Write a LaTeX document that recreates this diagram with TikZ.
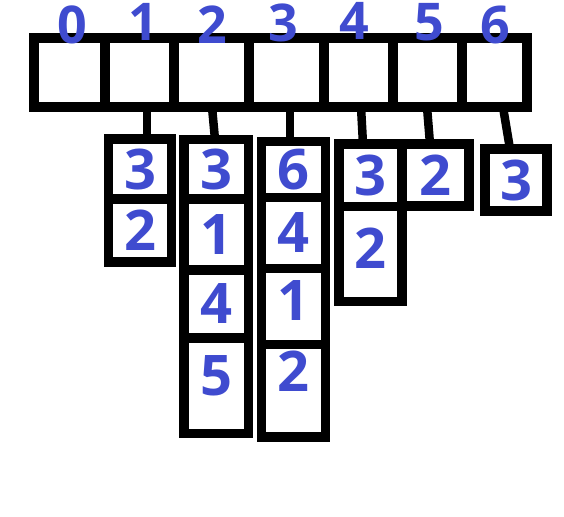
\documentclass[tikz,border=0pt]{standalone}
\usepackage{fontspec}
\newfontfamily\digitfont{Open Sans}
\definecolor{digitblue}{HTML}{3F4BCF}
\usetikzlibrary{positioning}

\begin{document}
\begin{tikzpicture}[x=1pt, y=-1pt,
  slot/.style={rectangle, draw=black, line width=9.5pt, inner sep=0pt, outer sep=0pt, minimum height=69pt},
  cell/.style={rectangle, draw=black, line width=9.5pt, inner sep=0pt, outer sep=0pt, text=digitblue, font=\digitfont\bfseries\fontsize{56}{56}\selectfont},
  idx/.style={inner sep=0pt, text=digitblue, font=\digitfont\bfseries\fontsize{52}{52}\selectfont},
  stem/.style={draw=black, line width=8.5pt}]
\useasboundingbox (0,0) rectangle (564,516);
% array of heads
\node[slot, minimum width=71pt] (a0) at (69.5,72.5) {};
\node[slot, minimum width=69pt] (a1) at (139.5,72.5) {};
\node[slot, minimum width=75pt] (a2) at (211.5,72.5) {};
\node[slot, minimum width=75pt] (a3) at (286.5,72.5) {};
\node[slot, minimum width=69pt] (a4) at (358.5,72.5) {};
\node[slot, minimum width=69pt] (a5) at (427.5,72.5) {};
\node[slot, minimum width=65pt] (a6) at (494.5,72.5) {};
\node[idx] (n0) at (72,25) {0};
\node[idx] (n1) at (143,22) {1};
\node[idx] (n2) at (212,25) {2};
\node[idx] (n3) at (283,23) {3};
\node[idx] (n4) at (354,21) {4};
\node[idx] (n5) at (429,22) {5};
\node[idx] (n6) at (495,25) {6};
% lists
\node[cell, minimum width=63pt, minimum height=60pt] (l1a) at (140,169) {3};
\node[cell, minimum width=63pt, minimum height=63pt] (l1b) at (140,230.5) {2};
\node[cell, minimum width=64.5pt, minimum height=59.5pt] (l2a) at (216,169.25) {3};
\node[cell, minimum width=64.5pt, minimum height=71pt] (l2b) at (216,234.5) {1};
\node[cell, minimum width=64.5pt, minimum height=68pt] (l2c) at (216,304) {4};
\node[cell, minimum width=64.5pt, minimum height=95.5pt, text depth=20pt] (l2d) at (216,385.75) {5};
\node[cell, minimum width=64pt, minimum height=56pt] (l3a) at (293.5,169.5) {6};
\node[cell, minimum width=64pt, minimum height=71pt] (l3b) at (293.5,233) {4};
\node[cell, minimum width=64pt, minimum height=76pt, text depth=12pt] (l3c) at (293.5,306.5) {1};
\node[cell, minimum width=64pt, minimum height=92.5pt, text depth=40pt] (l3d) at (293.5,390.75) {2};
\node[cell, minimum width=63pt, minimum height=62.5pt] (l4a) at (370.5,175.25) {3};
\node[cell, minimum width=63pt, minimum height=95pt, text depth=12pt] (l4b) at (370.5,254) {2};
\node[cell, minimum width=67pt, minimum height=62pt] (l5a) at (435.5,175) {2};
\node[cell, minimum width=62pt, minimum height=62pt] (l6a) at (516,180) {3};
% links
\draw[stem] ([xshift=7.5pt]a1.south) -- ([xshift=7pt]l1a.north);
\draw[stem] ([xshift=0.5pt]a2.south) -- ([xshift=-1pt]l2a.north);
\draw[stem] ([xshift=3.5pt]a3.south) -- ([xshift=-3.5pt]l3a.north);
\draw[stem] ([xshift=2.5pt]a4.south) -- ([xshift=-7.5pt]l4a.north);
\draw[stem] ([xshift=-0.5pt]a5.south) -- ([xshift=-5.5pt]l5a.north);
\draw[stem] ([xshift=8.5pt]a6.south) -- ([xshift=-6pt]l6a.north);
\end{tikzpicture}
\end{document}
